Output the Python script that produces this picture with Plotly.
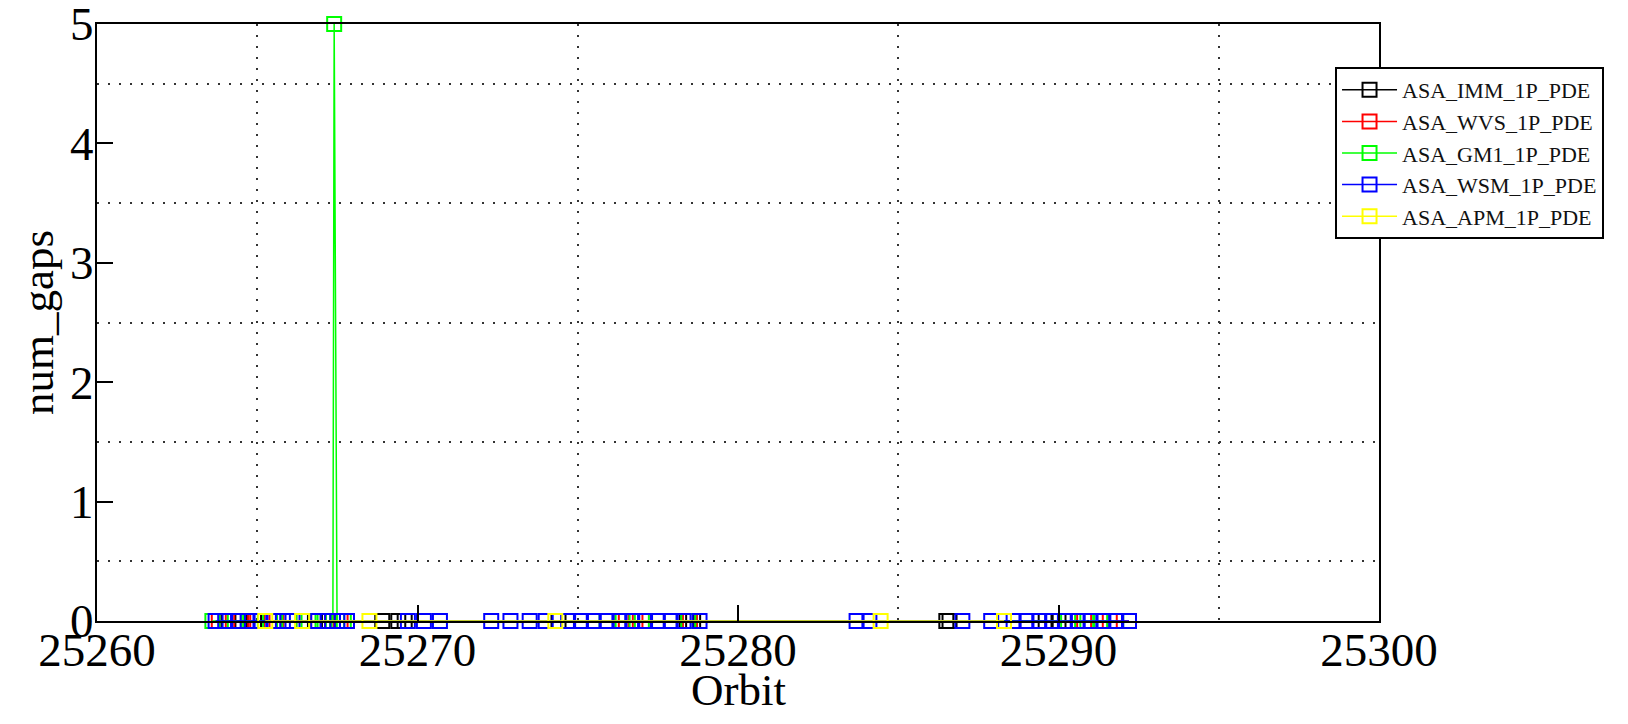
import plotly.graph_objects as go

# orbit positions of each product (all gaps 0 except the GM1 spike)
imm_x = [25264.1, 25264.9, 25266.0, 25266.8, 25267.2, 25268.9, 25269.4, 25269.6,
         25274.4, 25278.4, 25278.6, 25286.5, 25286.6, 25289.6, 25290.0]
imm_y = [0, 0, 0, 0, 0, 0, 0, 0, 0, 0, 0, 0, 0, 0, 0]

wvs_x = [25263.8, 25264.5, 25265.0, 25265.6, 25266.9, 25267.6, 25276.5, 25276.8,
         25278.5, 25290.8, 25291.6, 25292.2]
wvs_y = [0, 0, 0, 0, 0, 0, 0, 0, 0, 0, 0, 0]

gm1_x = [25263.6, 25264.3, 25264.8, 25265.4, 25266.0, 25266.6, 25267.1, 25267.36,
         25267.40, 25267.49, 25267.7, 25275.9, 25276.4, 25277.0, 25278.45, 25290.3,
         25290.9, 25291.3, 25291.8]
gm1_y = [0, 0, 0, 0, 0, 0, 0, 0, 5, 0, 0, 0, 0, 0, 0, 0, 0, 0, 0]

wsm_x = [25263.7, 25264.0, 25264.4, 25264.7, 25265.1, 25265.5, 25265.8, 25266.1,
         25266.9, 25267.2, 25267.5, 25267.8, 25269.7, 25270.2, 25270.7, 25272.3,
         25272.9, 25273.5, 25274.0, 25274.7, 25275.1, 25275.5, 25275.9, 25276.3,
         25276.7, 25277.1, 25277.5, 25277.9, 25278.3, 25278.8, 25283.7, 25284.1,
         25287.0, 25287.9, 25288.6, 25289.0, 25289.4, 25289.8, 25290.2, 25290.6,
         25291.0, 25291.4, 25291.8, 25292.2]
wsm_y = [0, 0, 0, 0, 0, 0, 0, 0, 0, 0, 0, 0, 0, 0, 0, 0, 0, 0, 0, 0, 0, 0,
         0, 0, 0, 0, 0, 0, 0, 0, 0, 0, 0, 0, 0, 0, 0, 0, 0, 0, 0, 0, 0, 0]

apm_x = [25265.25, 25266.4, 25268.5, 25274.3, 25284.45, 25288.3]
apm_y = [0, 0, 0, 0, 0, 0]

series = [
    ("ASA_IMM_1P_PDE", imm_x, imm_y, "#000000"),
    ("ASA_WVS_1P_PDE", wvs_x, wvs_y, "#ff0000"),
    ("ASA_GM1_1P_PDE", gm1_x, gm1_y, "#00ff00"),
    ("ASA_WSM_1P_PDE", wsm_x, wsm_y, "#0000ff"),
    ("ASA_APM_1P_PDE", apm_x, apm_y, "#ffff00"),
]

fig = go.Figure()
for name, xs, ys, col in series:
    fig.add_trace(go.Scatter(
        x=xs, y=ys, name=name, mode="lines+markers",
        line=dict(color=col, width=1.5),
        marker=dict(symbol="square-open", size=14, color=col, line=dict(width=2, color=col)),
        cliponaxis=False))

serif = "Liberation Serif"
axis_common = dict(
    showline=True, linecolor="black", linewidth=2, mirror=True,
    ticks="inside", ticklen=16, tickwidth=2, tickcolor="black",
    showgrid=False, zeroline=False, automargin=False,
    ticklabeloverflow="allow",
    tickfont=dict(family=serif, size=47, color="black"),
)

fig.update_xaxes(
    range=[25260, 25300], dtick=10, tick0=25260, tickformat="d",
    ticklabelstandoff=-13,
    minor=dict(dtick=5, tick0=25260, showgrid=True, gridcolor="#333333", gridwidth=2,
               griddash="2px,9px", ticks=""),
    **axis_common)
fig.update_yaxes(
    range=[0, 5], dtick=1,
    title=dict(text="num_gaps", font=dict(family=serif, size=45, color="black"), standoff=2),
    minor=dict(dtick=0.5, showgrid=True, gridcolor="#333333", gridwidth=2,
               griddash="2px,9px", ticks=""),
    ticklabelstandoff=-8,
    **axis_common)

# x axis title placed tight under the tick labels
fig.add_annotation(text="Orbit", xref="paper", yref="paper", x=0.5, y=-0.116,
                   xanchor="center", yanchor="middle", showarrow=False,
                   font=dict(family=serif, size=45, color="black"))

# page body has an 8px margin, so the margins are shifted by 8px
fig.update_layout(
    width=1628, height=724,
    margin=dict(l=89, r=257, t=16, b=111),
    paper_bgcolor="white", plot_bgcolor="white",
    legend=dict(x=0.9657, y=0.928, xanchor="left", yanchor="top",
                bgcolor="white", bordercolor="black", borderwidth=2,
                font=dict(family=serif, size=22, color="#111111"),
                tracegroupgap=0, itemwidth=55),
)

fig.write_html("out.html")
